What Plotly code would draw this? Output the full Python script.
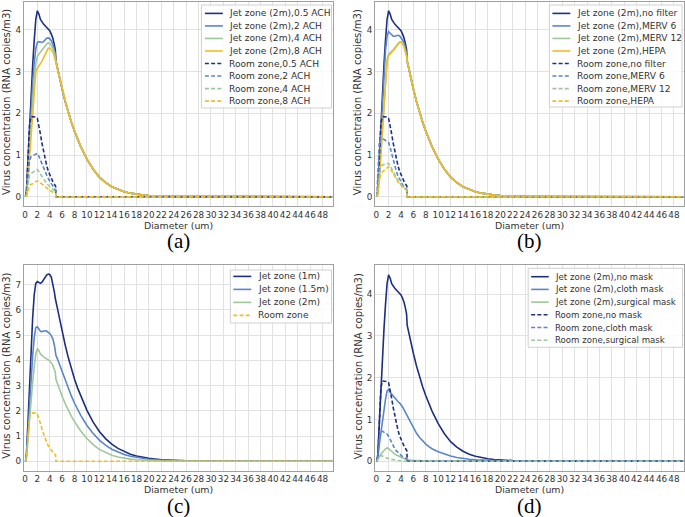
import plotly.graph_objects as go

W, H = 685, 517

# ---------------- data ----------------
# jet-zone x grid: head (x<5) and tail (x>=5)
XH = [0.1, 0.25, 0.5, 0.75, 1.0, 1.25, 1.5, 1.75, 2.0, 2.25, 2.5, 2.75, 3.0, 3.25, 3.5, 3.75, 4.0, 4.25, 4.5, 4.75, 4.9]
XT = [5.0, 5.25, 5.5, 5.75, 6.0, 6.5, 7.0, 7.5, 8.0, 8.5, 9.0, 10, 11, 12, 13, 14, 15, 16, 17, 18, 19, 20, 22, 24, 26, 28, 30, 35, 40, 45, 49.6]
# room-zone x grid
XR = [0.1, 0.3, 0.5, 0.75, 1.0, 1.25, 1.5, 1.75, 2.0, 2.25, 2.5, 2.75, 3.0, 3.25, 3.5, 3.75, 4.0, 4.25, 4.5, 4.75, 4.95, 5.0, 49.6]

# shared jet tail (2 m, all ventilation / filter cases)
JET_TAIL = [3.25, 3.07, 2.9, 2.73, 2.58, 2.28, 2.02, 1.78, 1.57, 1.37, 1.2, 0.9, 0.66, 0.47, 0.34, 0.24, 0.17, 0.12, 0.085, 0.06,
            0.042, 0.03, 0.015, 0.007, 0.0035, 0.0017, 0.0008, 0.0001, 0, 0, 0]

# (a) ventilation
JET_05ACH = [0, 0.15, 0.9, 1.75, 2.5, 3.15, 3.75, 4.25, 4.46, 4.38, 4.25, 4.18, 4.14, 4.1, 4.06, 4.02, 3.98, 3.9, 3.8, 3.64, 3.52]
JET_2ACH = [0, 0.1, 0.75, 1.45, 2.1, 2.7, 3.2, 3.55, 3.7, 3.72, 3.71, 3.7, 3.72, 3.76, 3.8, 3.81, 3.79, 3.74, 3.66, 3.52, 3.42]
JET_4ACH = [0, 0.08, 0.6, 1.2, 1.8, 2.35, 2.85, 3.2, 3.36, 3.42, 3.47, 3.52, 3.57, 3.62, 3.66, 3.69, 3.68, 3.63, 3.56, 3.45, 3.36]
JET_8ACH = [0, 0.05, 0.45, 0.95, 1.5, 2.05, 2.6, 2.98, 3.08, 3.13, 3.18, 3.25, 3.33, 3.42, 3.5, 3.56, 3.57, 3.53, 3.47, 3.37, 3.28]
ROOM_05ACH = [0, 0.2, 0.9, 1.75, 1.92, 1.92, 1.91, 1.91, 1.88, 1.72, 1.5, 1.28, 1.08, 0.9, 0.75, 0.62, 0.52, 0.43, 0.36, 0.3, 0.25, 0, 0]
ROOM_2ACH = [0, 0.1, 0.45, 0.88, 0.96, 0.98, 1.0, 1.03, 1.04, 0.97, 0.87, 0.78, 0.68, 0.6, 0.52, 0.44, 0.37, 0.3, 0.24, 0.19, 0.16, 0, 0]
ROOM_4ACH = [0, 0.06, 0.27, 0.52, 0.57, 0.58, 0.61, 0.64, 0.65, 0.6, 0.54, 0.48, 0.42, 0.37, 0.32, 0.28, 0.24, 0.2, 0.17, 0.14, 0.12, 0, 0]
ROOM_8ACH = [0, 0.03, 0.15, 0.27, 0.3, 0.31, 0.34, 0.37, 0.38, 0.36, 0.33, 0.29, 0.26, 0.23, 0.2, 0.17, 0.15, 0.13, 0.11, 0.09, 0.08, 0, 0]

# (b) filters
JET_MERV6 = [0, 0.12, 0.85, 1.6, 2.3, 2.95, 3.5, 3.85, 3.96, 3.92, 3.88, 3.85, 3.85, 3.86, 3.87, 3.86, 3.82, 3.76, 3.68, 3.55, 3.45]
JET_MERV12 = [0, 0.06, 0.5, 1.05, 1.65, 2.25, 2.85, 3.28, 3.42, 3.45, 3.48, 3.52, 3.57, 3.62, 3.67, 3.71, 3.72, 3.68, 3.6, 3.48, 3.38]
JET_HEPA = [0, 0.05, 0.45, 1.0, 1.6, 2.2, 2.8, 3.25, 3.38, 3.42, 3.45, 3.5, 3.55, 3.6, 3.66, 3.7, 3.71, 3.67, 3.59, 3.47, 3.37]
ROOM_MERV6 = [0, 0.5, 1.3, 1.42, 1.4, 1.38, 1.36, 1.34, 1.3, 1.18, 1.02, 0.87, 0.73, 0.61, 0.5, 0.42, 0.35, 0.29, 0.24, 0.2, 0.17, 0, 0]
ROOM_MERV12 = [0, 0.15, 0.5, 0.72, 0.76, 0.77, 0.78, 0.8, 0.8, 0.74, 0.66, 0.58, 0.5, 0.44, 0.38, 0.33, 0.28, 0.24, 0.21, 0.18, 0.16, 0, 0]
ROOM_HEPA = [0, 0.1, 0.35, 0.55, 0.6, 0.63, 0.67, 0.71, 0.72, 0.68, 0.61, 0.54, 0.47, 0.41, 0.36, 0.31, 0.27, 0.23, 0.2, 0.17, 0.15, 0, 0]

# (c) distance
JET_1M_HEAD = [0, 0.3, 1.6, 3.1, 4.5, 5.7, 6.6, 7.05, 7.12, 7.08, 7.05, 7.1, 7.2, 7.3, 7.38, 7.42, 7.4, 7.3, 7.05, 6.7, 6.45]
JET_1M_TAIL = [6.3, 6.05, 5.75, 5.45, 5.15, 4.6, 4.1, 3.65, 3.25, 2.9, 2.58, 2.02, 1.55, 1.18, 0.9, 0.68, 0.51, 0.38, 0.28, 0.21,
               0.155, 0.115, 0.062, 0.033, 0.017, 0.009, 0.005, 0.001, 0.0002, 0, 0]
JET_15M_HEAD = [0, 0.2, 1.2, 2.3, 3.3, 4.2, 4.9, 5.3, 5.33, 5.22, 5.15, 5.14, 5.16, 5.17, 5.16, 5.12, 5.06, 4.98, 4.85, 4.6, 4.35]
JET_15M_TAIL = [4.2, 4.05, 3.88, 3.7, 3.55, 3.2, 2.88, 2.58, 2.3, 2.05, 1.82, 1.42, 1.1, 0.84, 0.64, 0.48, 0.36, 0.27, 0.2, 0.15,
                0.11, 0.08, 0.043, 0.023, 0.012, 0.006, 0.003, 0.0006, 0.0001, 0, 0]

# (d) masks
JET_CLOTH_HEAD = [0, 0.05, 0.4, 0.7, 0.95, 1.2, 1.48, 1.68, 1.72, 1.65, 1.6, 1.55, 1.51, 1.47, 1.43, 1.4, 1.36, 1.3, 1.23, 1.16, 1.12]
JET_CLOTH_TAIL = [1.08, 1.0, 0.93, 0.86, 0.78, 0.67, 0.57, 0.48, 0.41, 0.35, 0.3, 0.23, 0.17, 0.125, 0.09, 0.065, 0.047, 0.034, 0.025, 0.018,
                  0.013, 0.009, 0.0045, 0.0022, 0.0011, 0.0005, 0.0002, 0, 0, 0, 0]
JET_SURG_HEAD = [0, 0.03, 0.1, 0.17, 0.22, 0.26, 0.3, 0.32, 0.31, 0.27, 0.23, 0.2, 0.17, 0.15, 0.13, 0.11, 0.09, 0.075, 0.06, 0.05, 0.045]
JET_SURG_TAIL = [0.04, 0.035, 0.03, 0.026, 0.022, 0.016, 0.012, 0.009, 0.006, 0.004, 0.003, 0.0015, 0.001, 0.0005, 0.0003, 0.0002,
                 0, 0, 0, 0, 0, 0, 0, 0, 0, 0, 0, 0, 0, 0, 0]
ROOM_CLOTH = [0, 0.2, 0.55, 0.73, 0.72, 0.7, 0.68, 0.65, 0.6, 0.52, 0.44, 0.36, 0.3, 0.25, 0.21, 0.17, 0.14, 0.11, 0.09, 0.07, 0.06, 0, 0]
ROOM_SURG = [0, 0.06, 0.12, 0.14, 0.12, 0.1, 0.08, 0.07, 0.06, 0.05, 0.04, 0.035, 0.03, 0.025, 0.02, 0.017, 0.014, 0.011, 0.009, 0.007, 0.006, 0, 0]

LEG_A = ["Jet zone (2m),0.5 ACH", "Jet zone (2m),2 ACH", "Jet zone (2m),4 ACH", "Jet zone (2m),8 ACH",
         "Room zone,0.5 ACH", "Room zone,2 ACH", "Room zone,4 ACH", "Room zone,8 ACH"]
LEG_B = ["Jet zone (2m),no filter", "Jet zone (2m),MERV 6", "Jet zone (2m),MERV 12", "Jet zone (2m),HEPA",
         "Room zone,no filter", "Room zone,MERV 6", "Room zone,MERV 12", "Room zone,HEPA"]
LEG_C = ["Jet zone (1m)", "Jet zone (1.5m)", "Jet zone (2m)", "Room zone"]
LEG_D = ["Jet zone (2m),no mask", "Jet zone (2m),cloth mask", "Jet zone (2m),surgical mask",
         "Room zone,no mask", "Room zone,cloth mask", "Room zone,surgical mask"]
X_TICKS = list(range(0, 50, 2))
X_TITLE = "Diameter (um)"
Y_TITLE = "Virus concentration (RNA copies/m3)"
PANEL_LABELS = ["(a)", "(b)", "(c)", "(d)"]

# ---------------- style ----------------
NAVY, BLUE, GREEN, YELLOW = "#1c2f80", "#5b85c9", "#9ec79a", "#f0be24"
DASH = "4px,2.2px"
LW = 1.6
FONT = "DejaVu Sans"
TXT = "#333333"

XJ = XH + XT
for arr in [JET_05ACH, JET_2ACH, JET_4ACH, JET_8ACH, JET_MERV6, JET_MERV12, JET_HEPA,
            JET_1M_HEAD, JET_15M_HEAD, JET_CLOTH_HEAD, JET_SURG_HEAD]:
    assert len(arr) == len(XH)
for arr in [JET_TAIL, JET_1M_TAIL, JET_15M_TAIL, JET_CLOTH_TAIL, JET_SURG_TAIL]:
    assert len(arr) == len(XT)
for arr in [ROOM_05ACH, ROOM_2ACH, ROOM_4ACH, ROOM_8ACH, ROOM_MERV6, ROOM_MERV12, ROOM_HEPA, ROOM_CLOTH, ROOM_SURG]:
    assert len(arr) == len(XR)

def px(x):
    return x / W

def py(y):
    return 1 - y / H

# panel geometry in pixels: (left, right, top, bottom)
GEOM = {
    1: (22, 331.5, 2, 206),
    2: (374.3, 683.8, 2, 206),
    3: (22, 331.5, 264.7, 470.7),
    4: (374.3, 683.8, 265.3, 470.7),
}
YRANGE = {1: [-0.223, 4.67], 2: [-0.223, 4.67], 3: [-0.373, 7.79], 4: [-0.225, 4.69]}
YTICKS = {1: list(range(0, 5)), 2: list(range(0, 5)), 3: list(range(0, 8)), 4: list(range(0, 5))}

panels = {
    1: [(XJ, JET_05ACH + JET_TAIL, NAVY, "solid"), (XJ, JET_2ACH + JET_TAIL, BLUE, "solid"),
        (XJ, JET_4ACH + JET_TAIL, GREEN, "solid"), (XJ, JET_8ACH + JET_TAIL, YELLOW, "solid"),
        (XR, ROOM_05ACH, NAVY, DASH), (XR, ROOM_2ACH, BLUE, DASH),
        (XR, ROOM_4ACH, GREEN, DASH), (XR, ROOM_8ACH, YELLOW, DASH)],
    2: [(XJ, JET_05ACH + JET_TAIL, NAVY, "solid"), (XJ, JET_MERV6 + JET_TAIL, BLUE, "solid"),
        (XJ, JET_MERV12 + JET_TAIL, GREEN, "solid"), (XJ, JET_HEPA + JET_TAIL, YELLOW, "solid"),
        (XR, ROOM_05ACH, NAVY, DASH), (XR, ROOM_MERV6, BLUE, DASH),
        (XR, ROOM_MERV12, GREEN, DASH), (XR, ROOM_HEPA, YELLOW, DASH)],
    3: [(XJ, JET_1M_HEAD + JET_1M_TAIL, NAVY, "solid"), (XJ, JET_15M_HEAD + JET_15M_TAIL, BLUE, "solid"),
        (XJ, JET_05ACH + JET_TAIL, GREEN, "solid"), (XR, ROOM_05ACH, YELLOW, DASH)],
    4: [(XJ, JET_05ACH + JET_TAIL, NAVY, "solid"), (XJ, JET_CLOTH_HEAD + JET_CLOTH_TAIL, BLUE, "solid"),
        (XJ, JET_SURG_HEAD + JET_SURG_TAIL, GREEN, "solid"),
        (XR, ROOM_05ACH, NAVY, DASH), (XR, ROOM_CLOTH, BLUE, DASH), (XR, ROOM_SURG, GREEN, DASH)],
}
legend_names = {1: LEG_A, 2: LEG_B, 3: LEG_C, 4: LEG_D}
# legend box (l, t, r, b), first row y, row step, line x0, x1, text x, font size
legend_geom = {
    1: ((200, 5, 330.5, 108), 13.4, 12.53, 203.5, 221.5, 226, 9.1),
    2: ((549, 5, 682, 107), 13.4, 12.53, 552, 570, 575, 9.1),
    3: ((229, 270, 330.5, 323), 276.4, 13.0, 232, 250, 255, 9.1),
    4: ((527.7, 268.3, 682.5, 347.3), 276.7, 12.7, 530.7, 548.3, 553, 8.6),
}

fig = go.Figure()
layout = dict(width=W, height=H, margin=dict(l=0, r=0, t=0, b=0),
              paper_bgcolor="white", plot_bgcolor="white", showlegend=False)
shapes, annotations = [], []

for i in range(1, 5):
    sx = "" if i == 1 else str(i)
    l, r, t, b = GEOM[i]
    for xs, ys, col, dash in panels[i]:
        fig.add_trace(go.Scatter(x=xs, y=ys, mode="lines", xaxis="x" + sx, yaxis="y" + sx,
                                 line=dict(color=col, width=LW, dash=dash), hoverinfo="skip"))
    common = dict(showgrid=True, gridcolor="#e2e2e2", gridwidth=1, showline=True, mirror=True,
                  linecolor="#a0a0a0", linewidth=1, zeroline=False, ticks="", tickangle=0,
                  tickfont=dict(family=FONT, size=8.8, color=TXT))
    layout["xaxis" + sx] = dict(common, domain=[px(l), px(r)], range=[-0.16, 49.6], tickvals=X_TICKS,
                                anchor="y" + sx)
    layout["yaxis" + sx] = dict(common, domain=[py(b), py(t)], range=YRANGE[i], tickvals=YTICKS[i],
                                anchor="x" + sx)
    cx = (l + r) / 2
    annotations.append(dict(x=px(cx), y=py(b + 19), xref="paper", yref="paper", text=X_TITLE, showarrow=False,
                            xanchor="center", yanchor="middle", font=dict(family=FONT, size=9.4, color=TXT)))
    annotations.append(dict(x=px(l - 17), y=py((t + b) / 2 - 2), xref="paper", yref="paper", text=Y_TITLE,
                            showarrow=False, textangle=-90, xanchor="center", yanchor="middle",
                            font=dict(family=FONT, size=10.1, color=TXT)))
    annotations.append(dict(x=px(cx), y=py(b + 35), xref="paper", yref="paper", text=PANEL_LABELS[i - 1],
                            showarrow=False, xanchor="center", yanchor="middle",
                            font=dict(family="Liberation Serif", size=21, color="black")))
    # legend
    (bl, bt, br, bb), y0, step, lx0, lx1, tx, fs = legend_geom[i]
    shapes.append(dict(type="rect", xref="paper", yref="paper", x0=px(bl), x1=px(br), y0=py(bb), y1=py(bt),
                       line=dict(color="#d0d0d0", width=1), fillcolor="rgba(255,255,255,0.85)", layer="above"))
    for k, (name, (xs, ys, col, dash)) in enumerate(zip(legend_names[i], panels[i])):
        yy = y0 + k * step
        shapes.append(dict(type="line", xref="paper", yref="paper", x0=px(lx0), x1=px(lx1), y0=py(yy), y1=py(yy),
                           line=dict(color=col, width=LW, dash=dash), layer="above"))
        annotations.append(dict(x=px(tx), y=py(yy), xref="paper", yref="paper", text=name, showarrow=False,
                                xanchor="left", yanchor="middle", font=dict(family=FONT, size=fs, color=TXT)))

layout["shapes"] = shapes
layout["annotations"] = annotations
fig.update_layout(**layout)
fig.write_html("out.html", config={"displayModeBar": False},
               post_script="document.body.style.margin='0px';")
